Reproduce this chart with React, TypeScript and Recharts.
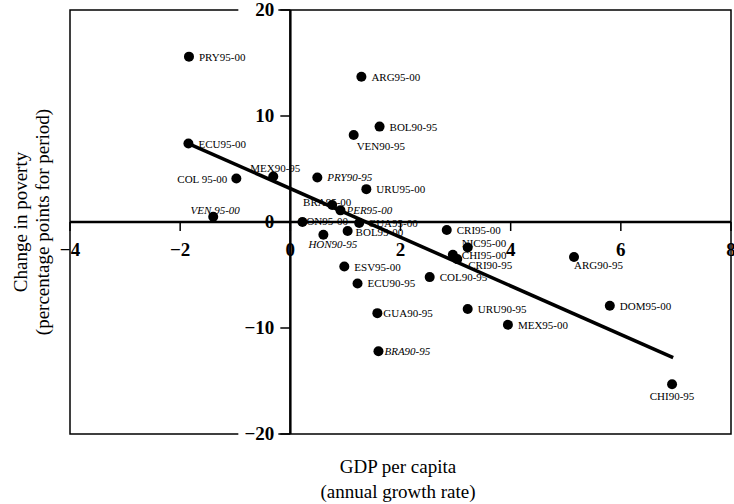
import React from 'react';
import {
  ScatterChart,
  Scatter,
  XAxis,
  YAxis,
  ReferenceLine,
  ReferenceArea,
} from 'recharts';

// country-period observations
const labels = [
  'PRY95-00', 'ARG95-00', 'BOL90-95', 'VEN90-95', 'ECU95-00', 'MEX90-95',
  'COL 95-00', 'PRY90-95', 'URU95-00', 'BRA95-00', 'PER95-00', 'VEN 95-00',
  'HON95-00', 'GUA95-00', 'BOL95-00', 'HON90-95', 'CRI95-00', 'NIC95-00',
  'CHI95-00', 'CRI90-95', 'COL90-95', 'ESV95-00', 'ECU90-95', 'ARG90-95',
  'DOM95-00', 'URU90-95', 'MEX95-00', 'GUA90-95', 'BRA90-95', 'CHI90-95',
];
const gdpGrowth = [
  -1.84, 1.29, 1.62, 1.15, -1.85, -0.31,
  -0.98, 0.49, 1.38, 0.76, 0.91, -1.4,
  0.22, 1.25, 1.04, 0.6, 2.84, 3.22,
  2.95, 3.03, 2.53, 0.98, 1.22, 5.15,
  5.8, 3.22, 3.95, 1.58, 1.6, 6.93,
];
const povertyChange = [
  15.6, 13.7, 9.0, 8.2, 7.4, 4.3,
  4.1, 4.2, 3.1, 1.6, 1.1, 0.5,
  0.0, -0.1, -0.85, -1.2, -0.75, -2.4,
  -3.1, -3.5, -5.2, -4.2, -5.8, -3.3,
  -7.9, -8.2, -9.7, -8.6, -12.2, -15.3,
];
const italicLabels = ['PRY90-95', 'VEN 95-00', 'HON90-95', 'BRA90-95', 'PER95-00'];

// fitted regression line end points
const fitX = [-1.85, 6.95];
const fitY = [7.4, -12.8];

const xTicks = [-4, -2, 0, 2, 4, 6, 8];
const yTicks = [-20, -10, 0, 10, 20];

const points = labels.map((name, i) => ({ name, x: gdpGrowth[i], y: povertyChange[i] }));
const fitLine = fitX.map((x, i) => ({ x, y: fitY[i] }));

// label placement relative to each dot
const labelPos: Record<string, { dx: number; dy: number; anchor?: string }> = {
  'COL 95-00': { dx: -9, dy: 4, anchor: 'end' },
  'VEN 95-00': { dx: 2, dy: -3, anchor: 'middle' },
  'MEX90-95': { dx: 2, dy: -4, anchor: 'middle' },
  'VEN90-95': { dx: 3, dy: 15 },
  'BRA95-00': { dx: -5, dy: 1, anchor: 'middle' },
  'PER95-00': { dx: 6, dy: 4 },
  'HON95-00': { dx: -4, dy: 3 },
  'GUA95-00': { dx: 9, dy: 4 },
  'BOL95-00': { dx: 8, dy: 5 },
  'HON90-95': { dx: -15, dy: 13 },
  'NIC95-00': { dx: -6, dy: 0 },
  'CHI95-00': { dx: 9, dy: 4 },
  'CRI90-95': { dx: 11, dy: 10 },
  'ARG90-95': { dx: 0, dy: 12 },
  'CHI90-95': { dx: 0, dy: 16, anchor: 'middle' },
  'GUA90-95': { dx: 6, dy: 4 },
  'BRA90-95': { dx: 6, dy: 4 },
};

const W = 734;
const H = 504;
const MARGIN = { top: 10, right: 3, bottom: 69, left: 69 };
const PLOT_LEFT = 70;
const PLOT_W = W - PLOT_LEFT - MARGIN.right;
const PLOT_H = H - MARGIN.top - MARGIN.bottom - 1;
const ZERO_X = PLOT_LEFT + (PLOT_W * 4) / 12;
const ZERO_Y = MARGIN.top + PLOT_H / 2;
const FONT = '"Liberation Serif", "DejaVu Serif", serif';

const fmt = (v: number) => (v < 0 ? '\u2212' + Math.abs(v) : String(v));

const XTick = ({ x, payload }: any) => (
  <g>
    <line x1={x} x2={x} y1={ZERO_Y} y2={ZERO_Y + 9} stroke="#000" strokeWidth={1.5} />
    <text x={x} y={ZERO_Y + 34} textAnchor="middle" fontFamily={FONT} fontSize={19} fontWeight="bold" fill="#000">
      {fmt(payload.value)}
    </text>
  </g>
);

const YTick = ({ y, payload }: any) => (
  <g>
    {Math.abs(payload.value) === 20 && (
      <rect x={ZERO_X - 52} y={y - 4} width={40} height={8} fill="#fff" />
    )}
    <line x1={ZERO_X - 10} x2={ZERO_X} y1={y} y2={y} stroke="#000" strokeWidth={1.5} />
    <text x={ZERO_X - 16} y={y + 6} textAnchor="end" fontFamily={FONT} fontSize={19} fontWeight="bold" fill="#000">
      {fmt(payload.value)}
    </text>
  </g>
);

const Dot = ({ cx, cy, payload }: any) => {
  const p = labelPos[payload.name] || { dx: 10, dy: 4 };
  return (
    <g>
      <circle cx={cx} cy={cy} r={5} fill="#000" />
      <text
        x={cx + p.dx}
        y={cy + p.dy}
        textAnchor={p.anchor || 'start'}
        fontFamily={FONT}
        fontSize={11}
        fontStyle={italicLabels.includes(payload.name) ? 'italic' : 'normal'}
        fill="#000"
      >
        {payload.name}
      </text>
    </g>
  );
};

export default function App() {
  return (
    <div style={{ position: 'absolute', left: 0, top: 0, width: W, height: H, background: '#fff' }}>
      <ScatterChart width={W} height={H} margin={MARGIN}>
        <ReferenceArea x1={-4} x2={8} y1={-20} y2={20} fill="none" stroke="#000" strokeWidth={1.5} />
        <ReferenceLine x={0} stroke="#000" strokeWidth={2.5} />
        <ReferenceLine y={0} stroke="#000" strokeWidth={2.5} />
        <XAxis
          type="number"
          dataKey="x"
          domain={[-4, 8]}
          ticks={xTicks}
          height={1}
          axisLine={false}
          tickLine={false}
          tick={XTick}
          interval={0}
        />
        <YAxis
          type="number"
          dataKey="y"
          domain={[-20, 20]}
          ticks={yTicks}
          width={1}
          axisLine={false}
          tickLine={false}
          tick={YTick}
          interval={0}
        />
        <Scatter data={fitLine} line={{ stroke: '#000', strokeWidth: 3.5 }} shape={() => null} isAnimationActive={false} />
        <Scatter data={points} shape={<Dot />} isAnimationActive={false} />
      </ScatterChart>
      <svg width={W} height={H} style={{ position: 'absolute', left: 0, top: 0, pointerEvents: 'none' }}>
        <g fontFamily={FONT} fontSize={19} fill="#000" textAnchor="middle">
          <text transform="translate(27,222) rotate(-90)">Change in poverty</text>
          <text transform="translate(49,222) rotate(-90)">(percentage points for period)</text>
          <text x={398} y={473}>GDP per capita</text>
          <text x={398} y={498}>(annual growth rate)</text>
        </g>
      </svg>
    </div>
  );
}
